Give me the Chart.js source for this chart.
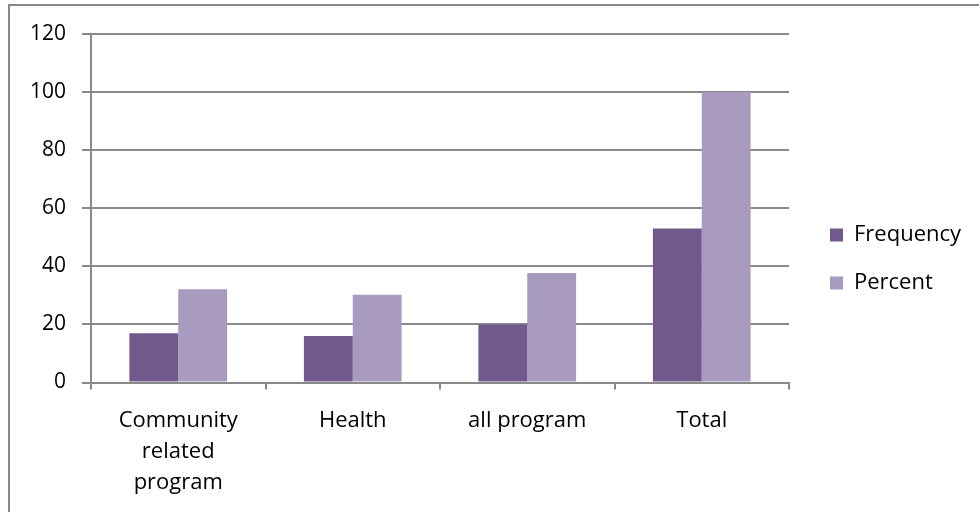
<!DOCTYPE html>
<html>
<head>
<meta charset="utf-8">
<script src="https://cdn.jsdelivr.net/npm/chart.js@4.4.1/dist/chart.umd.min.js"></script>
<style>
    html, body { margin: 0; padding: 0; background: #fff; overflow: hidden; }
    #wrap { position: relative; width: 979px; height: 512px; }
    #frame {
        position: absolute; left: 8px; top: 4px; width: 1000px; height: 600px;
        border: 2px solid #878787; pointer-events: none;
    }
</style>
</head>
<body>
<div id="wrap">
    <canvas id="chart" width="979" height="512"></canvas>
    <div id="frame"></div>
</div>
<script>
    // Chart data
    const categories = [['Community', 'related', 'program'], 'Health', 'all program', 'Total'];
    const frequency = [17, 16, 20, 53];
    const percent = [32.1, 30.2, 37.7, 100];
    const yTicks = [0, 20, 40, 60, 80, 100, 120];

    const gridColor = '#898989';
    const fontFamily = "'Open Sans', 'Liberation Sans', sans-serif";

    // Legend placement: keep the plot area width and move the legend items right
    const legendWidth = 190;
    const legendItemsX = 830;
    const legendPadding = 26;

    const legendPlace = {
        id: 'legendPlace',
        afterInit(chart) {
            const lg = chart.legend;
            const fit = lg.fit.bind(lg);
            lg.fit = function () {
                fit();
                this.width = legendWidth;
            };
        },
        afterLayout(chart) {
            const lg = chart.legend;
            lg.left = legendItemsX - legendPadding;
            lg.right = lg.left + legendWidth;
            lg.top = 0;
            lg.bottom = 518;
        }
    };

    const ctx = document.getElementById('chart').getContext('2d');
    new Chart(ctx, {
        type: 'bar',
        data: {
            labels: categories,
            datasets: [{
                label: 'Frequency',
                data: frequency,
                backgroundColor: '#71598e',
                borderWidth: 0
            }, {
                label: 'Percent',
                data: percent,
                backgroundColor: '#a99abf',
                borderWidth: 0
            }]
        },
        options: {
            responsive: false,
            animation: false,
            events: [],
            layout: { padding: { top: 34, left: 0, right: 0, bottom: 0 } },
            datasets: {
                bar: { barPercentage: 1.0, categoryPercentage: 0.56 }
            },
            scales: {
                x: {
                    afterFit(scale) { scale.height = 129.5; },
                    grid: {
                        display: true,
                        drawOnChartArea: false,
                        drawTicks: true,
                        tickLength: 7,
                        color: gridColor,
                        lineWidth: 2
                    },
                    border: { display: true, color: gridColor, width: 2 },
                    ticks: {
                        color: '#000',
                        padding: 16,
                        maxRotation: 0,
                        autoSkip: false,
                        font: { family: fontFamily, size: 22, lineHeight: 1.41 }
                    }
                },
                y: {
                    min: 0,
                    max: 120,
                    afterFit(scale) { scale.width = 91; },
                    afterBuildTicks(scale) {
                        scale.ticks = yTicks.map(v => ({ value: v }));
                    },
                    grid: {
                        color: gridColor,
                        lineWidth: 2,
                        tickLength: 9
                    },
                    border: { display: true, color: gridColor, width: 2 },
                    ticks: {
                        color: '#000',
                        padding: 16,
                        font: { family: fontFamily, size: 21 }
                    }
                }
            },
            plugins: {
                legend: {
                    position: 'right',
                    labels: {
                        color: '#000',
                        boxWidth: 13,
                        boxHeight: 13,
                        padding: legendPadding,
                        font: { family: fontFamily, size: 22 }
                    }
                },
                tooltip: { enabled: false }
            }
        },
        plugins: [legendPlace]
    });
</script>
</body>
</html>
